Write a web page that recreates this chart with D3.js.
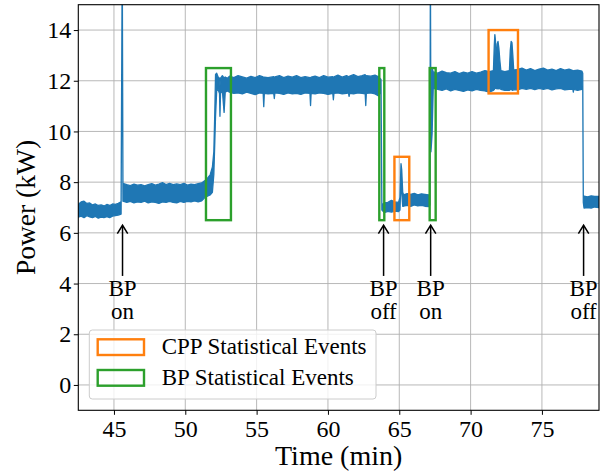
<!DOCTYPE html>
<html><head><meta charset="utf-8">
<script src="https://cdn.jsdelivr.net/npm/d3@7"></script>
<style>
body{margin:0;background:#fff}
svg{display:block}
text{font-family:"Liberation Serif","Times New Roman",serif;fill:#000}
</style>
</head><body>
<svg id="c" width="603" height="474"></svg>
<script>
// ---- data (time in minutes, power envelope in kW) ----
const time = [
 42.5,42.7,42.9,43.1,43.3,43.5,43.7,43.9,44.1,44.3,44.5,44.7,44.9,45.1,45.3,45.5,45.58,45.63,
 45.9,46.15,46.4,46.65,46.9,47.15,47.4,47.65,47.9,48.15,48.4,48.65,48.9,49.15,49.4,49.65,49.9,50.15,50.4,50.65,50.9,51.15,
 51.35,51.55,51.75,51.9,52.0,52.07,52.12,52.2,52.3,52.4,52.43,52.47,52.6,52.72,52.8,52.95,
 53.1,53.4,53.7,54.0,54.3,54.6,54.9,55.2,55.46,55.5,55.54,55.8,56.2,56.24,56.28,56.6,56.9,57.2,57.5,57.8,58.1,58.4,
 58.74,58.78,58.82,59.1,59.4,59.7,60.0,60.34,60.38,60.42,60.7,61.0,61.3,61.44,61.48,61.52,61.8,62.1,62.4,62.61,62.65,62.69,
 63.0,63.3,63.55,63.72,63.78,63.95,
 64.2,64.45,64.7,64.95,65.05,65.12,65.17,65.24,
 65.3,65.55,65.8,66.05,66.3,66.55,66.8,67.05,67.15,67.18,67.22,67.3,67.38,
 67.7,68.0,68.3,68.6,68.9,69.2,69.5,69.8,70.1,70.4,70.7,71.0,71.3,71.6,
 71.66,71.7,71.74,71.8,71.86,71.92,71.98,72.05,72.12,72.4,72.72,72.78,72.84,72.9,72.96,73.02,
 73.3,73.6,73.9,74.2,74.5,74.8,75.1,75.4,75.7,76.0,76.3,76.6,76.9,77.17,77.2,77.23,77.5,77.8,77.86,77.9,77.95,
 78.2,78.45,78.7,79.0
];
const powerHigh = [
 7.12,7.22,7.25,7.16,7.18,7.1,7.14,7.08,7.1,7.06,7.12,7.08,7.14,7.12,7.16,7.22,17,7.95,
 7.9,7.86,7.92,7.88,7.9,7.85,7.9,7.94,7.88,7.92,7.98,7.9,7.95,7.9,7.93,7.9,7.95,7.88,7.92,7.9,7.94,7.97,
 8.05,8.15,8.3,8.6,9.2,10.8,12.25,12.3,12.15,12.1,11.8,12.1,12.2,12.1,12.15,12.1,
 12.18,12.12,12.2,12.15,12.1,12.17,12.12,12.2,12.15,12.1,12.14,12.12,12.16,12.1,12.15,12.2,12.12,12.18,12.14,12.2,12.12,12.16,
 12.12,12.05,12.14,12.18,12.12,12.2,12.14,12.16,12.1,12.15,12.22,12.14,12.2,12.16,12.1,12.18,12.24,12.16,12.2,12.24,12.1,12.2,
 12.18,12.22,12.15,12.05,7.1,7.18,
 7.2,7.28,7.22,7.2,7.4,8.73,8.5,7.6,
 7.5,7.55,7.52,7.56,7.5,7.54,7.52,7.5,7.48,17,9.2,12.5,12.35,
 12.3,12.38,12.32,12.3,12.36,12.28,12.34,12.3,12.36,12.3,12.34,12.4,12.36,12.4,
 13.4,13.82,13.6,12.7,13.45,13.55,13.3,12.8,12.4,12.36,12.4,13.2,13.55,13.5,13.0,12.42,
 12.45,12.5,12.42,12.48,12.4,12.46,12.5,12.42,12.46,12.4,12.48,12.42,12.46,12.4,12.38,12.4,12.42,12.38,12.3,7.4,7.45,
 7.42,7.46,7.44,7.44
];
const powerLow = [
 6.62,6.66,6.6,6.68,6.63,6.6,6.65,6.58,6.62,6.6,6.64,6.6,6.66,6.68,6.7,6.74,17,7.25,
 7.2,7.24,7.18,7.22,7.2,7.25,7.18,7.22,7.2,7.16,7.22,7.2,7.24,7.2,7.18,7.24,7.2,7.24,7.22,7.26,7.22,7.26,
 7.38,7.45,7.5,7.6,8.3,9.6,10.6,11.6,11.65,11.5,10.6,11.5,11.6,10.75,11.55,11.6,
 11.55,11.5,11.52,11.48,11.55,11.5,11.45,11.52,11.5,10.98,11.5,11.48,11.5,11.3,11.52,11.5,11.46,11.52,11.48,11.5,11.46,11.52,
 11.5,11.02,11.5,11.48,11.52,11.5,11.46,11.5,11.25,11.5,11.52,11.48,11.5,11.52,11.38,11.5,11.48,11.52,11.5,11.48,11.02,11.5,
 11.52,11.48,11.4,11.6,6.9,6.8,
 6.85,6.82,6.86,6.84,6.9,8.2,7.6,7.05,
 7.05,7.08,7.04,7.1,7.06,7.08,7.05,7.04,7.1,17,9.2,9.9,11.7,
 11.66,11.62,11.68,11.6,11.66,11.62,11.58,11.64,11.6,11.66,11.62,11.6,11.55,11.62,
 11.65,11.7,11.7,11.7,11.68,11.7,11.68,11.7,11.66,11.62,11.62,11.65,11.66,11.64,11.62,11.65,
 11.64,11.7,11.66,11.7,11.65,11.7,11.66,11.7,11.64,11.68,11.7,11.64,11.66,11.66,11.55,11.66,11.62,11.66,11.8,7.2,6.98,
 7.0,6.98,7.02,7.0
];

// statistical event windows [start, end] in min and [low, high] in kW
const cppStart = [64.66, 71.26];
const cppEnd   = [65.7, 73.32];
const cppLow   = [6.5, 11.5];
const cppHigh  = [9.0, 14.0];
const bpStart  = [51.45, 63.6, 67.13];
const bpEnd    = [53.2, 63.95, 67.55];
const bpLow    = [6.5, 6.5, 6.5];
const bpHigh   = [12.5, 12.5, 12.5];

// annotations
const annotTime  = [45.6, 63.9, 67.2, 77.92];
const annotState = ["on", "off", "on", "off"];
const annotLine1 = "BP";

const xTicks = [45, 50, 55, 60, 65, 70, 75];
const yTicks = [0, 2, 4, 6, 8, 10, 12, 14];
const xDomain = [42.5, 79.0];
const yDomain = [-1, 15];
const legendLabels = ["CPP Statistical Events", "BP Statistical Events"];
const xLabel = "Time (min)";
const yLabel = "Power (kW)";

// ---- drawing ----
const FONT = '"Liberation Serif","Times New Roman",serif';
const svg = d3.select("#c");
const m = {l: 78.3, r: 599, t: 4.7, b: 410.3};
const x = d3.scaleLinear().domain(xDomain).range([m.l, m.r]);
const y = d3.scaleLinear().domain(yDomain).range([m.b, m.t]);
const blue = "#1f77b4", orange = "#ff7f0e", green = "#2ca02c";

// grid
const grid = svg.append("g");
grid.selectAll("line.gx").data(xTicks).join("line").attr("class","gx")
  .attr("x1", d => x(d)).attr("x2", d => x(d)).attr("y1", m.t).attr("y2", m.b)
  .attr("stroke", "#b0b0b0").attr("stroke-width", 0.9);
grid.selectAll("line.gy").data(yTicks).join("line").attr("class","gy")
  .attr("y1", d => y(d)).attr("y2", d => y(d)).attr("x1", m.l).attr("x2", m.r)
  .attr("stroke", "#b0b0b0").attr("stroke-width", 0.9);

svg.append("clipPath").attr("id", "clip").append("rect")
  .attr("x", m.l).attr("y", m.t).attr("width", m.r - m.l).attr("height", m.b - m.t);

const data = time.map((t, i) => ({t, hi: powerHigh[i], lo: powerLow[i]}));
const area = d3.area().x(d => x(d.t)).y0(d => y(d.lo)).y1(d => y(d.hi));
svg.append("path").datum(data).attr("clip-path", "url(#clip)")
  .attr("d", area).attr("fill", blue).attr("stroke", blue)
  .attr("stroke-width", 1.3).attr("stroke-linejoin", "round");

// event boxes
const boxes = svg.append("g").attr("fill", "none").attr("stroke-width", 2.4);
boxes.selectAll("rect.cpp").data(cppStart.map((s, i) => ({s, e: cppEnd[i], lo: cppLow[i], hi: cppHigh[i]})))
  .join("rect").attr("class","cpp").attr("stroke", orange)
  .attr("x", d => x(d.s)).attr("width", d => x(d.e) - x(d.s))
  .attr("y", d => y(d.hi)).attr("height", d => y(d.lo) - y(d.hi));
boxes.selectAll("rect.bp").data(bpStart.map((s, i) => ({s, e: bpEnd[i], lo: bpLow[i], hi: bpHigh[i]})))
  .join("rect").attr("class","bp").attr("stroke", green)
  .attr("x", d => x(d.s)).attr("width", d => x(d.e) - x(d.s))
  .attr("y", d => y(d.hi)).attr("height", d => y(d.lo) - y(d.hi));

// annotations
const ann = svg.append("g");
annotTime.forEach((t, i) => {
  const ax = x(t), tip = y(6.3), tail = y(4.3);
  ann.append("line").attr("x1", ax).attr("x2", ax).attr("y1", tail).attr("y2", tip + 0.5)
    .attr("stroke", "#000").attr("stroke-width", 1.5);
  ann.append("path").attr("d", `M${ax - 5.2},${tip + 8.3}L${ax},${tip}L${ax + 5.2},${tip + 8.3}`)
    .attr("fill", "none").attr("stroke", "#000").attr("stroke-width", 1.5);
  const tx = ann.append("text").attr("x", ax).attr("y", y(3.5)).attr("text-anchor", "middle")
    .style("font-family", FONT).style("font-size", "23px");
  tx.append("tspan").attr("x", ax).text(annotLine1);
  tx.append("tspan").attr("x", ax).attr("dy", 22.6).text(annotState[i]);
});

// axes
const xa = svg.append("g").attr("transform", `translate(0,${m.b})`)
  .call(d3.axisBottom(x).tickValues(xTicks).tickSize(4.5).tickSizeOuter(0).tickPadding(5).tickFormat(d3.format("d")));
const ya = svg.append("g").attr("transform", `translate(${m.l},0)`)
  .call(d3.axisLeft(y).tickValues(yTicks).tickSize(4.5).tickSizeOuter(0).tickPadding(2.5).tickFormat(d3.format("d")));
[xa, ya].forEach(g => {
  g.attr("font-family", null).attr("font-size", null);
  g.select(".domain").remove();
  g.selectAll("line").attr("stroke", "#000").attr("stroke-width", 1);
  g.selectAll("text").style("font-family", FONT).style("font-size", "24px").attr("fill", "#000");
});
svg.append("rect").attr("x", m.l).attr("y", m.t).attr("width", m.r - m.l).attr("height", m.b - m.t)
  .attr("fill", "none").attr("stroke", "#000").attr("stroke-width", 1.1);

svg.append("text").attr("x", (m.l + m.r) / 2).attr("y", 465).attr("text-anchor", "middle")
  .style("font-family", FONT).style("font-size", "28px").text(xLabel);
svg.append("text").attr("transform", `translate(35,${(m.t + m.b) / 2}) rotate(-90)`)
  .attr("text-anchor", "middle").style("font-family", FONT).style("font-size", "27.5px").text(yLabel);

// legend
const lg = svg.append("g");
lg.append("rect").attr("x", 89.3).attr("y", 330).attr("width", 286.7).attr("height", 69).attr("rx", 3)
  .attr("fill", "#fff").attr("fill-opacity", 0.8).attr("stroke", "#cccccc").attr("stroke-width", 1);
[orange, green].forEach((c, i) => {
  const yy = 339.3 + i * 30.7;
  lg.append("rect").attr("x", 97.7).attr("y", yy).attr("width", 46.3).attr("height", 15.7)
    .attr("fill", "none").attr("stroke", c).attr("stroke-width", 2.4);
  lg.append("text").attr("x", 161.7).attr("y", yy + 15).style("font-family", FONT).style("font-size", "23px").text(legendLabels[i]);
});
</script>
</body></html>
